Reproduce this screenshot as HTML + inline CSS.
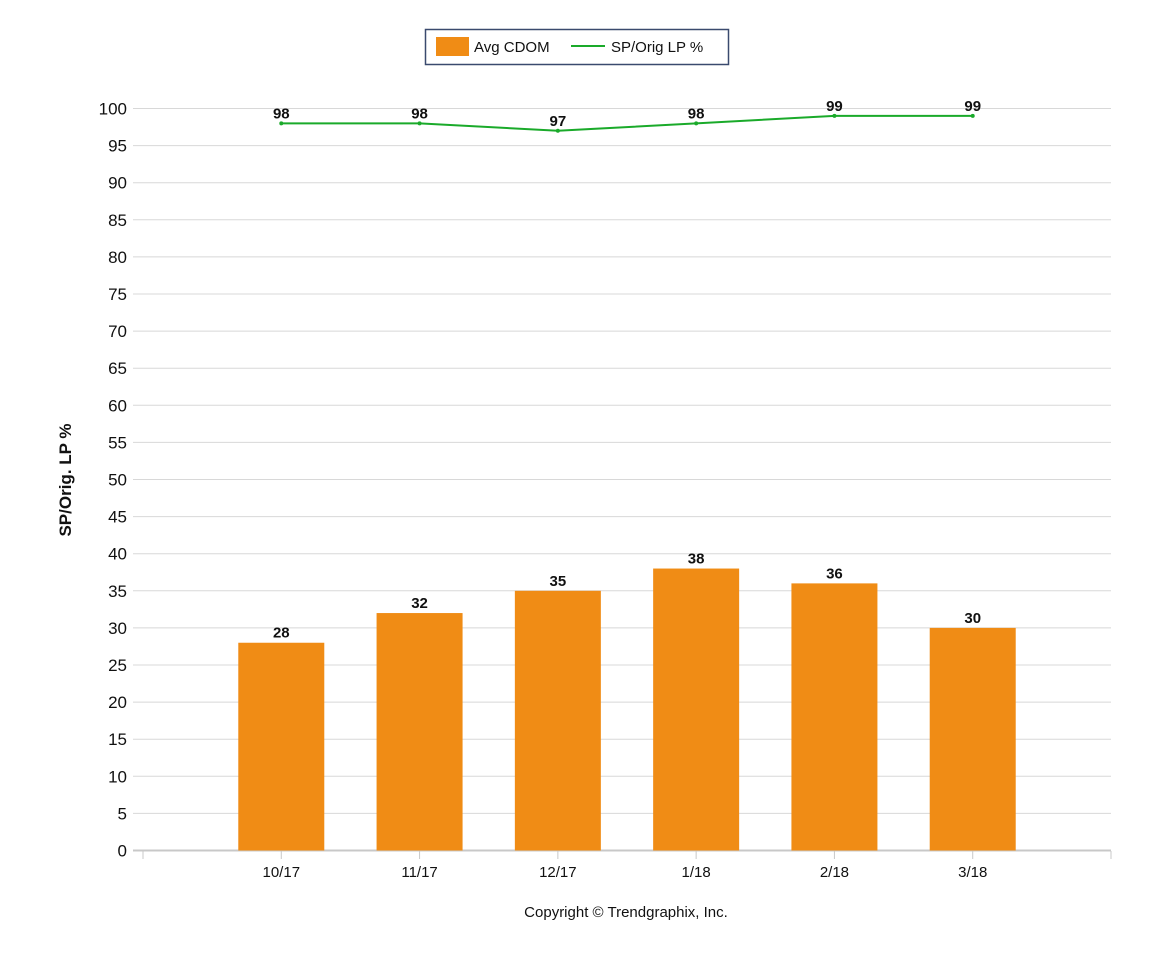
<!DOCTYPE html>
<html><head><meta charset="utf-8"><style>
body{margin:0;background:#fff;font-family:"Liberation Sans",Arial,sans-serif;}
svg text{font-family:"Liberation Sans",Arial,sans-serif;}
</style></head><body>
<svg id="chart" width="1152" height="960" xmlns="http://www.w3.org/2000/svg">
<g>
<rect x="425.5" y="29.5" width="303" height="35" fill="#fff" stroke="#3a4a6e" stroke-width="1.5"/>
<rect x="436" y="37" width="33" height="19" fill="#f08c15"/>
<text x="474" y="52" font-size="15" fill="#111">Avg CDOM</text>
<line x1="571" y1="46" x2="605" y2="46" stroke="#1aaa2a" stroke-width="2"/>
<text x="611" y="52" font-size="15" fill="#111">SP/Orig LP %</text>
</g>
<g id="grid"></g><g id="bars"></g><g id="line"></g><g id="xaxis"></g>
<text transform="translate(71,480) rotate(-90)" text-anchor="middle" font-size="17" font-weight="bold" fill="#111">SP/Orig. LP %</text>
<text x="626" y="917" text-anchor="middle" font-size="15" fill="#111">Copyright © Trendgraphix, Inc.</text>
</svg>
<script>
const categories=["10/17","11/17","12/17","1/18","2/18","3/18"];
const cdom=[28,32,35,38,36,30];
const spPct=[98,98,97,98,99,99];
const yTicks=[0,5,10,15,20,25,30,35,40,45,50,55,60,65,70,75,80,85,90,95,100];
const NS="http://www.w3.org/2000/svg";
const x0=143,x1=1111,yBase=850.5,yTop=108.5;
const y=v=>yBase-(v/100)*(yBase-yTop);
const step=(x1-x0)/(categories.length+1);
const xc=i=>x0+step*(i+1);
function mk(t,a,p){const e=document.createElementNS(NS,t);for(const k in a)e.setAttribute(k,a[k]);p.appendChild(e);return e;}
const grid=document.getElementById('grid');
yTicks.forEach(v=>{
 const l=mk('line',{x1:133,x2:x1,y1:y(v),y2:y(v),stroke:v===0?'#c8c8c8':'#d8d8d8','stroke-width':v===0?2:1},grid);
 
 
 const t=mk('text',{x:127,y:y(v)+6,'text-anchor':'end','font-size':17,fill:'#111'},grid);
 t.textContent=v;
 
 
});
const bars=document.getElementById('bars');
cdom.forEach((v,i)=>{
 const r=mk('rect',{x:xc(i)-43,y:y(v),width:86,height:yBase-y(v),fill:'#f08c15'},bars);
 
 
 const t=mk('text',{x:xc(i),y:y(v)-5,'text-anchor':'middle','font-size':15,'font-weight':'bold',fill:'#111'},bars);
 t.textContent=v;
 
 
});
const lg=document.getElementById('line');
const pl=mk('polyline',{points:spPct.map((v,i)=>xc(i)+','+y(v)).join(' '),fill:'none',stroke:'#1aaa2a','stroke-width':2},lg);


spPct.forEach((v,i)=>{
 const c=mk('circle',{cx:xc(i),cy:y(v),r:2,fill:'#1aaa2a'},lg);
 
 
 const t=mk('text',{x:xc(i),y:y(v)-5,'text-anchor':'middle','font-size':15,'font-weight':'bold',fill:'#111'},lg);
 t.textContent=v;
 
 
});
const xa=document.getElementById('xaxis');
[x0,x1].concat(categories.map((c,i)=>xc(i))).forEach(xx=>{
 const l=mk('line',{x1:xx,x2:xx,y1:851,y2:859,stroke:'#c8c8c8','stroke-width':1},xa);
 
 
});
categories.forEach((c,i)=>{
 const t=mk('text',{x:xc(i),y:877,'text-anchor':'middle','font-size':15,fill:'#111'},xa);
 t.textContent=c;
 
 
});
</script>
</body></html>
